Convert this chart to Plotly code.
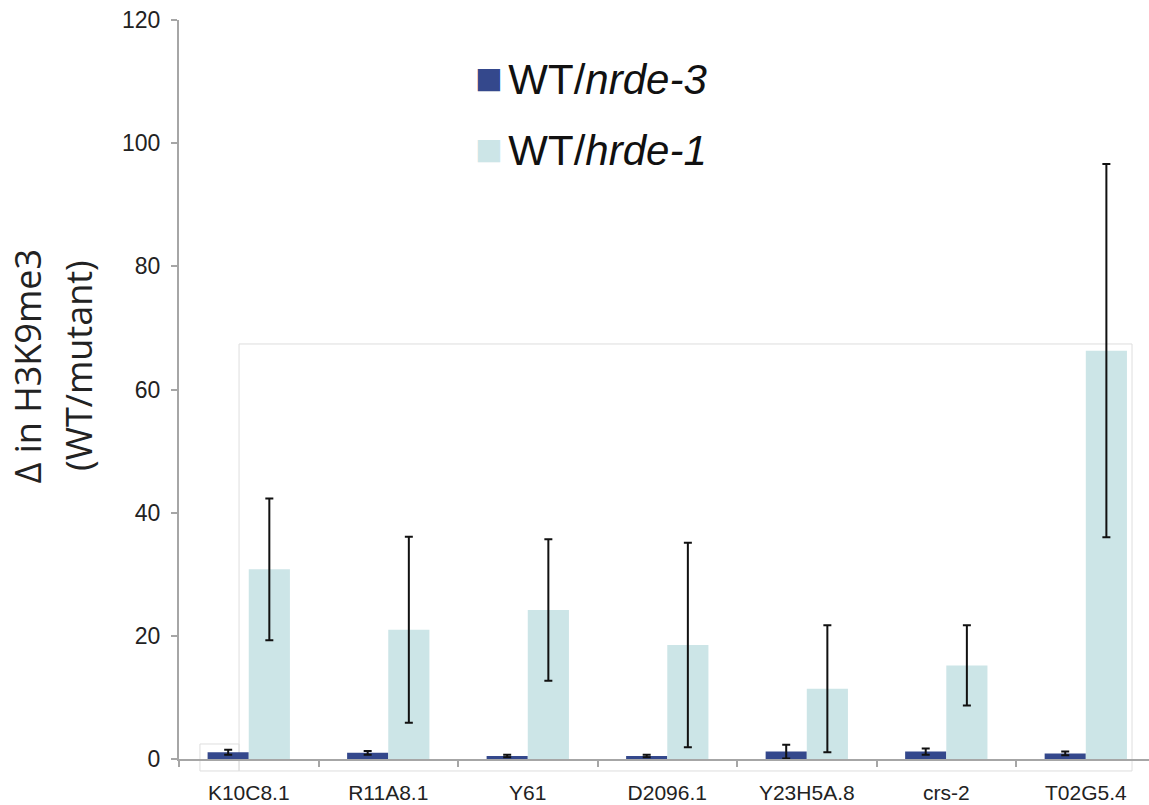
import plotly.graph_objects as go

genes = ["K10C8.1", "R11A8.1", "Y61", "D2096.1", "Y23H5A.8", "crs-2", "T02G5.4"]
nrde3_vals = [1.1, 1.0, 0.5, 0.5, 1.2, 1.2, 0.9]
nrde3_err = [0.4, 0.3, 0.2, 0.2, 1.1, 0.5, 0.3]
hrde1_vals = [30.8, 21.0, 24.2, 18.5, 11.4, 15.2, 66.3]
hrde1_err = [11.5, 15.1, 11.5, 16.6, 10.3, 6.5, 30.3]
y_ticks = [0, 20, 40, 60, 80, 100, 120]

DARK = "#34488c"
LIGHT = "#cce5e7"
AXIS = "#a6a6a6"

fig = go.Figure()
fig.add_trace(go.Bar(
    x=genes, y=nrde3_vals, name="WT/nrde-3", marker=dict(color=DARK, line=dict(width=0)),
    error_y=dict(type="data", array=nrde3_err, color="#111111", thickness=2, width=4),
))
fig.add_trace(go.Bar(
    x=genes, y=hrde1_vals, name="WT/hrde-1", marker=dict(color=LIGHT, line=dict(width=0)),
    error_y=dict(type="data", array=hrde1_err, color="#111111", thickness=2, width=4),
))

# faint frame artefacts from the original figure
frame = "#dedede"
fig.add_shape(type="rect", xref="paper", yref="paper", x0=0.0619, x1=0.9825, y0=-0.0162, y1=0.5616,
              line=dict(color=frame, width=1), fillcolor="rgba(0,0,0,0)", layer="below")
fig.add_shape(type="rect", xref="paper", yref="paper", x0=0.0216, x1=0.0619, y0=-0.0162, y1=0.0203,
              line=dict(color=frame, width=1), fillcolor="rgba(0,0,0,0)", layer="below")

# legend as text
legend_font = dict(family="Liberation Sans, Arial", size=42, color="#111111")
fig.add_annotation(xref="paper", yref="paper", x=0.3035, y=0.921, xanchor="left", yanchor="middle",
                   text=f"<span style='color:{DARK};font-size:46px'>■</span><span style='font-size:20px'> </span>WT/<i>nrde-3</i>",
                   showarrow=False, font=legend_font)
fig.add_annotation(xref="paper", yref="paper", x=0.3035, y=0.826, xanchor="left", yanchor="middle",
                   text=f"<span style='color:{LIGHT};font-size:46px'>■</span><span style='font-size:20px'> </span>WT/<i>hrde-1</i>",
                   showarrow=False, font=legend_font)

# y-axis title (two lines)
title_font = dict(family="Open Sans", size=36, color="#222222")
fig.add_annotation(xref="paper", yref="paper", x=-0.156, y=0.532, xanchor="center", yanchor="middle",
                   text="Δ in H3K9me3", textangle=-90, showarrow=False, font=title_font)
fig.add_annotation(xref="paper", yref="paper", x=-0.103, y=0.532, xanchor="center", yanchor="middle",
                   text="(WT/mutant)", textangle=-90, showarrow=False, font=title_font)

fig.update_layout(
    width=1149, height=805,
    margin=dict(l=179, r=0, t=20, b=46),
    paper_bgcolor="white", plot_bgcolor="white",
    barmode="group", bargap=0.41, bargroupgap=0,
    showlegend=False,
    font=dict(family="Liberation Sans, Arial", color="#222222"),
)
fig.update_xaxes(
    type="category", range=[-0.5, 6.453],
    showline=True, linecolor=AXIS, linewidth=2,
    ticks="outside", tickson="boundaries", ticklen=6, tickcolor=AXIS, tickwidth=2,
    tickfont=dict(size=21, color="#222222"), ticklabelstandoff=14,
    showgrid=False, zeroline=False,
)
fig.update_yaxes(
    range=[0, 120], tickvals=y_ticks,
    showline=True, linecolor=AXIS, linewidth=2,
    ticks="outside", ticklen=6, tickcolor=AXIS, tickwidth=2,
    tickfont=dict(size=23, color="#222222"), ticklabelstandoff=6,
    showgrid=False, zeroline=False,
)

fig.write_html("out.html")
